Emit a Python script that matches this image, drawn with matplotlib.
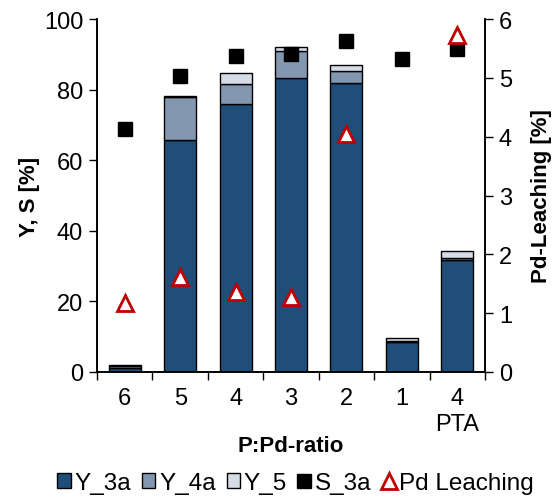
import matplotlib.pyplot as plt
import numpy as np

plt.rcParams['font.family'] = ['Liberation Sans', 'DejaVu Sans']

categories = ['6', '5', '4', '3', '2', '1', '4\nPTA']
y_3a = [1.2, 65.8, 76.0, 83.3, 82.0, 8.6, 31.6]
y_4a = [0.6, 12.0, 5.6, 7.7, 3.3, 0.2, 0.7]
y_5 = [0.3, 0.5, 3.1, 1.1, 1.7, 0.9, 2.1]
s_3a = [68.9, 83.9, 89.5, 90.1, 93.8, 88.7, 91.5]
pd_leach = [1.17, 1.61, 1.36, 1.27, 4.05, np.nan, 5.73]

x = np.arange(len(categories))
fig = plt.figure(figsize=(5.58, 5.02), dpi=100)
ax = fig.add_axes([0.174, 0.257, 0.695, 0.703])
ax2 = ax.twinx()

w = 0.58
b1 = ax.bar(x, y_3a, w, color='#1F4E79', edgecolor='black', linewidth=1, label='Y_3a')
b2 = ax.bar(x, y_4a, w, bottom=y_3a, color='#8497B0', edgecolor='black', linewidth=1, label='Y_4a')
bot = np.array(y_3a) + np.array(y_4a)
b3 = ax.bar(x, y_5, w, bottom=bot, color='#D6DCE5', edgecolor='black', linewidth=1, label='Y_5')
s, = ax.plot(x, s_3a, 's', color='black', markersize=10, label='S_3a')
t, = ax2.plot(x, pd_leach, '^', markerfacecolor='white', markeredgecolor='#C00000',
              markeredgewidth=2, markersize=12, label='Pd Leaching')

ax.set_xlim(-0.5, len(categories) - 0.5)
ax.set_ylim(0, 100)
ax2.set_ylim(0, 6)
ax.set_yticks([0, 20, 40, 60, 80, 100])
ax2.set_yticks([0, 1, 2, 3, 4, 5, 6])
ax.set_xticks(x)
ax.set_xticklabels(categories)
ax.set_xticks(np.arange(-0.5, len(categories)), minor=True)
ax.tick_params(axis='x', which='major', length=0, labelsize=17, pad=11)
ax.tick_params(axis='x', which='minor', length=6, width=1)
ax.tick_params(axis='y', labelsize=17, length=6, width=1, pad=4)
ax2.tick_params(axis='y', labelsize=17, length=6, width=1, pad=4)

for a in (ax, ax2):
    a.spines['top'].set_visible(False)
    for sp in a.spines.values():
        sp.set_linewidth(1.2)

ax.set_ylabel('Y, S [%]', fontsize=16, fontweight='bold', labelpad=3)
ax2.set_ylabel('Pd-Leaching [%]', fontsize=16, fontweight='bold', labelpad=14)
ax.set_xlabel('P:Pd-ratio', fontsize=16, fontweight='bold', labelpad=0)

fig.legend([b1, b2, b3, s, t], ['Y_3a', 'Y_4a', 'Y_5', 'S_3a', 'Pd Leaching'],
           loc='lower center', bbox_to_anchor=(0.53, -0.03), ncol=5, frameon=False,
           fontsize=17.5, handlelength=0.55, handleheight=0.55, handletextpad=0.15,
           columnspacing=0.45)

fig.savefig('out.png', dpi=100)
